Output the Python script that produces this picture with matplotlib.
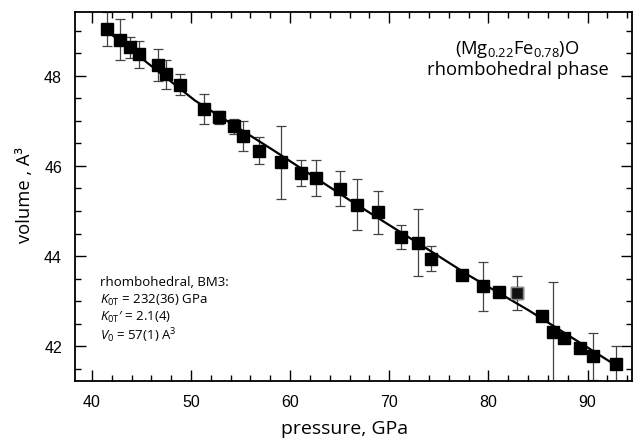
import matplotlib
matplotlib.use("Agg")
import matplotlib.pyplot as plt
from matplotlib.ticker import MultipleLocator

# datos: presion (GPa), volumen (A^3), error en volumen
pressure = [41.57, 42.85, 43.86, 44.76, 46.65, 47.48, 48.86, 51.31, 52.82, 54.30,
            55.27, 56.82, 59.06, 61.08, 62.62, 65.00, 66.79, 68.83, 71.22, 72.93,
            74.20, 77.29, 79.41, 81.09, 82.90, 85.35, 86.49, 87.59, 89.20, 90.58,
            92.90]
volume = [49.04, 48.80, 48.63, 48.48, 48.24, 48.03, 47.80, 47.27, 47.08, 46.88,
          46.66, 46.34, 46.08, 45.84, 45.73, 45.49, 45.14, 44.97, 44.42, 44.30,
          43.94, 43.59, 43.33, 43.20, 43.18, 42.67, 42.31, 42.19, 41.97, 41.78,
          41.60]
volume_err = [0.37, 0.46, 0.24, 0.30, 0.35, 0.33, 0.23, 0.33, 0.14, 0.17,
              0.34, 0.30, 0.81, 0.29, 0.40, 0.39, 0.57, 0.47, 0.27, 0.75,
              0.28, 0.0, 0.54, 0.0, 0.38, 0.0, 1.12, 0.0, 0.0, 0.52,
              0.41]

# curva del ajuste BM3 (puntos leidos sobre la linea)
fit_pressure = [41.5, 50.4, 58.5, 66.0, 74.1, 78.1, 84.1, 93.1]
fit_volume = [49.00, 47.45, 46.32, 45.24, 44.12, 43.56, 42.79, 41.54]

x_ticks = [40, 50, 60, 70, 80, 90]
y_ticks = [42, 44, 46, 48]

fit_lines = ['rhombohedral, BM3:',
             r'$K_{\mathrm{0T}}$ = 232(36) GPa',
             r'$K_{\mathrm{0T}}$' + '\u2032 = 2.1(4)',
             r'$V_{\mathrm{0}}$ = 57(1) A$^{3}$']

plt.rcParams['font.family'] = ['Liberation Sans', 'DejaVu Sans']
plt.rcParams['mathtext.fontset'] = 'custom'
plt.rcParams['mathtext.rm'] = 'Open Sans'
plt.rcParams['mathtext.it'] = 'Open Sans:italic'

fig = plt.figure(figsize=(6.33, 4.39), dpi=100)
ax = fig.add_axes([0.1177, 0.129, 0.8803, 0.842])

ax.plot(fit_pressure, fit_volume, color='black', lw=1.6, zorder=2)

ax.errorbar(pressure, volume, yerr=volume_err, fmt='none', ecolor='#444444',
            elinewidth=0.9, capsize=3.3, capthick=0.9, zorder=1)
ax.plot(pressure, volume, 's', color='black', ms=8.5, zorder=3)
# punto gris (a ~83 GPa)
ax.plot(pressure[24], volume[24], 's', color='#111111', mec='#888888',
        mew=1.0, ms=8.5, zorder=4)

ax.set_xlim(38.25, 94.45)
ax.set_ylim(41.22, 49.42)
ax.set_xticks(x_ticks)
ax.set_yticks(y_ticks)
ax.xaxis.set_minor_locator(MultipleLocator(2))
ax.yaxis.set_minor_locator(MultipleLocator(0.5))
ax.tick_params(which='both', direction='in', top=True, right=True,
               labelsize=11.5, width=1.0, pad=9)
ax.tick_params(which='major', length=8)
ax.tick_params(which='minor', length=4)
for s in ax.spines.values():
    s.set_linewidth(1.3)

ax.set_xlabel('pressure, GPa', fontsize=14, family=['Open Sans', 'DejaVu Sans'])
ax.xaxis.set_label_coords(0.485, -0.102)
ax.set_ylabel('volume , A\u00b3', fontsize=13.2, family=['Open Sans', 'DejaVu Sans'])
ax.yaxis.set_label_coords(-0.072, 0.507)

ax.text(0.795, 0.875, '(Mg$_{0.22}$Fe$_{0.78}$)O\nrhombohedral phase',
        transform=ax.transAxes, ha='center', va='center', fontsize=13.2,
        family=['Open Sans', 'DejaVu Sans'], linespacing=1.05)

for i, line in enumerate(fit_lines):
    ax.text(0.046, 0.2700 - i * 0.0475, line, transform=ax.transAxes,
            ha='left', va='center', fontsize=9.5,
            family=['Open Sans', 'DejaVu Sans'])

plt.savefig('out.png', dpi=100)
